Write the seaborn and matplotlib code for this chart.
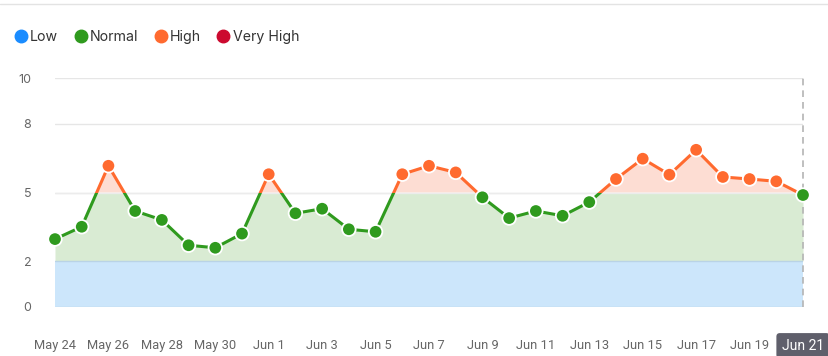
import numpy as np
import pandas as pd
import matplotlib
matplotlib.use("Agg")
import matplotlib.pyplot as plt
import seaborn as sns
from matplotlib.lines import Line2D
from matplotlib.patches import Rectangle

# ---- data ----
day_labels = ["May 24", "May 25", "May 26", "May 27", "May 28", "May 29", "May 30",
              "May 31", "Jun 1", "Jun 2", "Jun 3", "Jun 4", "Jun 5", "Jun 6",
              "Jun 7", "Jun 8", "Jun 9", "Jun 10", "Jun 11", "Jun 12", "Jun 13",
              "Jun 14", "Jun 15", "Jun 16", "Jun 17", "Jun 18", "Jun 19", "Jun 20",
              "Jun 21"]
values = [2.96, 3.50, 6.17, 4.19, 3.80, 2.69, 2.58, 3.20, 5.80, 4.09, 4.29, 3.39,
          3.28, 5.80, 6.17, 5.88, 4.79, 3.88, 4.19, 3.98, 4.58, 5.59, 6.48, 5.78,
          6.87, 5.68, 5.59, 5.49, 4.89]
y_ticks = [0, 2, 5, 8, 10]
low_max = 2
normal_max = 5
legend_names = ["Low", "Normal", "High", "Very High"]

# colours
C_LOW = "#1a8cff"
C_NORMAL = "#2f9a1e"
C_HIGH = "#ff6a2f"
C_VHIGH = "#cc0a2f"
F_LOW = "#cce6fb"
F_NORMAL = "#d9ebd3"
F_HIGH = "#fdddd3"

df = pd.DataFrame({"idx": np.arange(len(values)), "day": day_labels, "value": values})
df["level"] = np.where(df["value"] > normal_max, "High", "Normal")

sns.set_theme(style="white")
plt.rcParams["font.family"] = ["Inter", "DejaVu Sans"]

fig = plt.figure(figsize=(8.29, 3.56), dpi=100)
ax = fig.add_axes([55 / 829, 1 - 306.7 / 356, (803 - 55) / 829, (306.7 - 78.3) / 356])

x = df["idx"].values
y = df["value"].values
x0, x1 = x[0], x[-1]

# grid lines
for t in y_ticks:
    ax.axhline(t, color="#e6e6e6", lw=1, zorder=0)

# bands / area fills
ax.axhspan(0, low_max, color=F_LOW, lw=0, zorder=1)
ax.axhline(low_max, color="#b9d3e6", lw=1, zorder=1.5)
ax.axhline(0, color="#b9d3e6", lw=1, zorder=1.5)
g = ax.fill_between(x, low_max, y, color=F_NORMAL, lw=0, zorder=1)
g.set_clip_path(Rectangle((x0, low_max), x1 - x0, normal_max - low_max, transform=ax.transData))
h = ax.fill_between(x, normal_max, y, where=y > normal_max, interpolate=True,
                    color=F_HIGH, lw=0, zorder=1)
ax.axhline(normal_max, color="#ececec", lw=1, zorder=1.2)

# line, split colour at the normal threshold
sns.lineplot(data=df, x="idx", y="value", color=C_NORMAL, lw=2.2, ax=ax, zorder=3)
sns.lineplot(data=df, x="idx", y="value", color=C_HIGH, lw=2.2, ax=ax, zorder=3)
ln_n, ln_h = ax.lines[-2], ax.lines[-1]
ln_n.set_clip_path(Rectangle((x0 - 1, -5), x1 - x0 + 2, normal_max + 5, transform=ax.transData))
ln_h.set_clip_path(Rectangle((x0 - 1, normal_max), x1 - x0 + 2, 20, transform=ax.transData))

# crosshair on the last day
ax.axvline(x1, color="#b4b4b4", lw=1.2, ls=(0, (4, 3)), zorder=2, clip_on=False)

sns.scatterplot(data=df, x="idx", y="value", hue="level",
                palette={"Normal": C_NORMAL, "High": C_HIGH},
                s=95, edgecolor="white", linewidth=1.3, legend=False, ax=ax,
                zorder=4, clip_on=False)

ax.set_xlim(x0, x1)
ax.set_ylim(0, 10)
ax.set_yticks(y_ticks)
ax.set_yticklabels([str(t) for t in y_ticks], fontsize=9, color="#666666")
ax.set_xticks(x[::2])
ax.set_xticklabels(df["day"].values[::2], fontsize=9.3, color="#666666", family="Roboto")
ax.tick_params(axis="y", length=0, pad=17)
ax.tick_params(axis="x", length=0, pad=23)
ax.set_xlabel("")
ax.set_ylabel("")
for s in ax.spines.values():
    s.set_visible(False)

last = ax.get_xticklabels()[-1]
last.set_color("white")
last.set_fontsize(10)
last.set_bbox(dict(boxstyle="round,pad=0.4,rounding_size=0.25", fc="#5f5f6b", ec="none"))

# legend
handles = [Line2D([], [], marker="o", ls="", color=c, markersize=9)
           for c in [C_LOW, C_NORMAL, C_HIGH, C_VHIGH]]
fig.legend(handles, legend_names, loc="center left", bbox_to_anchor=(0.008, 1 - 37 / 356),
           ncol=4, frameon=False, fontsize=10.2, handletextpad=0.05, columnspacing=0.98,
           handlelength=1.2, labelcolor="#333333", borderaxespad=0)

# top border line
fig.add_artist(Line2D([0, 1], [1 - 4 / 356, 1 - 4 / 356], transform=fig.transFigure,
                      color="#e3e3e3", lw=1))

fig.savefig("out.png", dpi=100)
